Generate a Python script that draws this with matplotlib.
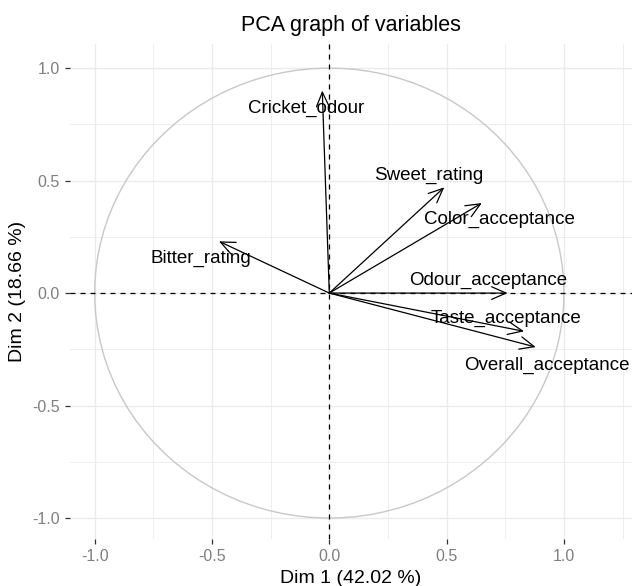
import numpy as np
import matplotlib
matplotlib.use("Agg")
import matplotlib.pyplot as plt

plt.rcParams['font.family'] = ['Liberation Sans', 'DejaVu Sans']

# ---- data ----
variables = ["Cricket_odour", "Sweet_rating", "Color_acceptance", "Odour_acceptance",
             "Taste_acceptance", "Overall_acceptance", "Bitter_rating"]
dim1 = [-0.03, 0.49, 0.65, 0.76, 0.83, 0.88, -0.47]
dim2 = [0.90, 0.47, 0.40, 0.00, -0.17, -0.24, 0.23]
title = "PCA graph of variables"
xlabel = "Dim 1 (42.02 %)"
ylabel = "Dim 2 (18.66 %)"
ticks = [-1.0, -0.5, 0.0, 0.5, 1.0]
tick_labels = ["-1.0", "-0.5", "0.0", "0.5", "1.0"]

# label offsets in pixels (repelled text placement)
label_offsets = {
    "Cricket_odour": (-16, -18),
    "Sweet_rating": (-16, 12),
    "Color_acceptance": (18, -16),
    "Odour_acceptance": (-19, 13),
    "Taste_acceptance": (-18, 13),
    "Overall_acceptance": (11, -18),
    "Bitter_rating": (-18, -17),
}

fig = plt.figure(figsize=(6.32, 5.86), dpi=100)
ax = fig.add_axes([70/632, 1-539/586, 562/632, (539-44)/586])

ax.set_xlim(-1.105, 1.29)
ax.set_ylim(-1.093, 1.107)

# grid
for v in np.arange(-1.0, 1.3, 0.25):
    major = abs(v*2 - round(v*2)) < 1e-9
    ax.axvline(v, color='#EBEBEB', lw=1.0 if major else 0.6, zorder=0)
for v in np.arange(-1.0, 1.01, 0.25):
    major = abs(v*2 - round(v*2)) < 1e-9
    ax.axhline(v, color='#EBEBEB', lw=1.0 if major else 0.6, zorder=0)

# circle
theta = np.linspace(0, 2*np.pi, 100)
ax.plot(np.cos(theta), np.sin(theta), color='#C8C8C8', lw=1.0, zorder=1)

# reference lines
ax.axhline(0, color='black', lw=0.9, ls=(0, (4, 4)), zorder=2)
ax.axvline(0, color='black', lw=0.9, ls=(0, (4, 4)), zorder=2)

# arrows and labels
for name, x, y in zip(variables, dim1, dim2):
    ax.annotate("", xy=(x, y), xytext=(0, 0),
                arrowprops=dict(arrowstyle='->,head_length=0.8,head_width=0.35',
                                color='black', lw=0.9, shrinkA=0, shrinkB=0,
                                mutation_scale=13),
                zorder=3)
    dx, dy = label_offsets[name]
    ax.annotate(name, xy=(x, y), xytext=(dx, dy), textcoords='offset pixels',
                ha='center', va='center', fontsize=13.5, color='black', zorder=4)

ax.set_xticks(ticks)
ax.set_xticklabels(tick_labels)
ax.set_yticks(ticks)
ax.set_yticklabels(tick_labels)
ax.tick_params(axis='both', length=3.5, width=0.9, color='#333333',
               labelcolor='#7F7F7F', labelsize=11.5, pad=4)
for s in ax.spines.values():
    s.set_visible(False)

ax.set_xlabel(xlabel, fontsize=14, color='black', labelpad=4)
ax.set_ylabel(ylabel, fontsize=14, color='black', labelpad=4)
fig.text(351/632, 1-25/586, title, ha='center', va='center', fontsize=15.5, color='black')

fig.savefig("out.png", dpi=100)
